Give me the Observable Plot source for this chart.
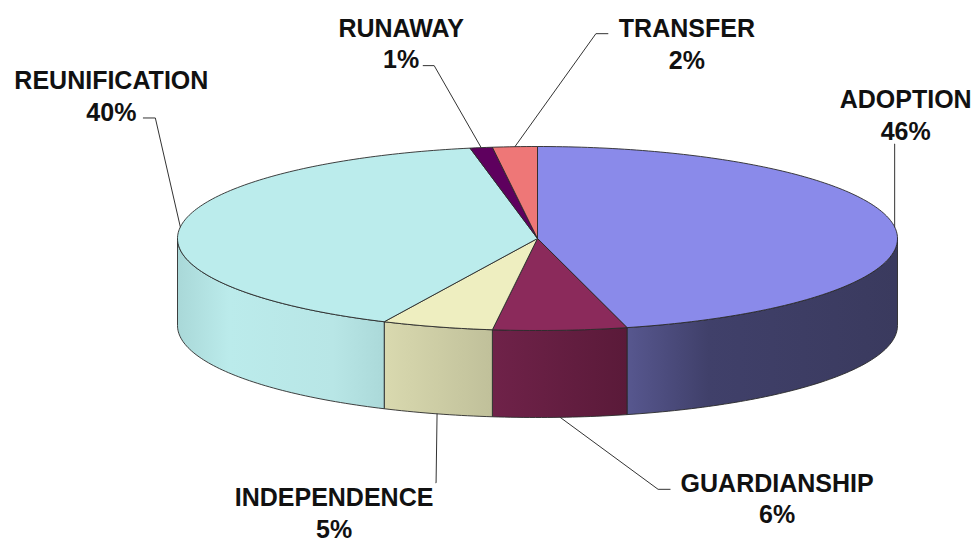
<!DOCTYPE html>
<html><head><meta charset="utf-8">
<script src="https://cdn.jsdelivr.net/npm/d3@7"></script>
<script src="https://cdn.jsdelivr.net/npm/@observablehq/plot@0.6"></script>
<style>html,body{margin:0;padding:0;background:#fff;}</style>
</head><body><div id="chart"></div>
<script>
// ---- data ----
const categories = ["ADOPTION", "GUARDIANSHIP", "INDEPENDENCE", "REUNIFICATION", "RUNAWAY", "TRANSFER"];
const values = [46, 6, 5, 40, 1, 2];
const percentLabels = ["46%", "6%", "5%", "40%", "1%", "2%"];

// ---- styles ----
const topColors = ["#8a8aea", "#8b2a5b", "#eeeec0", "#bbecec", "#5e005e", "#ee7777"];
const sideStops = [
  [[0, "#57578f"], [0.3, "#40406a"], [1, "#3a3a5e"]],
  [[0, "#6f2249"], [1, "#5a1a39"]],
  [[0, "#d9d9af"], [1, "#c0c09a"]],
  [[0, "#a9d8d8"], [0.25, "#bbebeb"], [0.75, "#b8e6e6"], [1, "#abd9d9"]],
  [[0, "#4a004a"], [1, "#4a004a"]],
  [[0, "#c86060"], [1, "#c86060"]]
];

// ---- layout ----
const W = 977, H = 541, CX = 537, CY = 238, RX = 360, RY = 92, DEPTH = 87;
// leader anchor on rim ("top" edge or "bottom" of wall), elbow offset, tail length, label-center offset
const labelLayout = [
  {rim: "top",    elbow: [0, -83],    tail: 0,   label: [11, -113]},
  {rim: "bottom", elbow: [98, 72],    tail: 12,  label: [217, 80]},
  {rim: "bottom", elbow: [-1, 69],    tail: 0,   label: [-103, 98]},
  {rim: "top",    elbow: [-25, -109], tail: -12, label: [-69, -132]},
  {rim: "top",    elbow: [-47, -82],  tail: -11, label: [-80, -105]},
  {rim: "top",    elbow: [81, -113],  tail: 12,  label: [172, -104]}
];

// ---- geometry from data ----
const total = d3.sum(values);
let acc = 0;
const slices = categories.map((c, i) => {
  const a0 = acc / total * 2 * Math.PI;
  acc += values[i];
  const a1 = acc / total * 2 * Math.PI;
  return {c, i, a0, a1};
});
const px = a => CX + RX * Math.sin(a);
const py = a => CY - RY * Math.cos(a);
const arc = (s, e) => {
  const n = Math.max(2, Math.ceil((e - s) / (Math.PI / 180)));
  return d3.range(n + 1).map(k => s + (e - s) * k / n);
};

const sideMarks = [];
slices.forEach(s => {
  const st = Math.max(s.a0, Math.PI / 2), en = Math.min(s.a1, 3 * Math.PI / 2);
  if (en <= st) return;
  const angs = arc(st, en);
  const pts = angs.map(a => ({x: px(a), y: py(a)}))
    .concat(angs.slice().reverse().map(a => ({x: px(a), y: py(a) + DEPTH})));
  pts.push(pts[0]);
  sideMarks.push(Plot.line(pts, {x: "x", y: "y", curve: "linear", fill: `url(#side${s.i})`, stroke: "#2a2a2a", strokeWidth: 0.9}));
});

const topMarks = slices.map(s => {
  const pts = [{x: CX, y: CY}].concat(arc(s.a0, s.a1).map(a => ({x: px(a), y: py(a)})));
  pts.push({x: CX, y: CY});
  return Plot.line(pts, {x: "x", y: "y", curve: "linear", fill: topColors[s.i], stroke: "#2a2a2a", strokeWidth: 0.9});
});

const leaders = [], labels = [];
slices.forEach(s => {
  const L = labelLayout[s.i];
  const m = (s.a0 + s.a1) / 2;
  const ax = px(m), ay = py(m) + (L.rim === "bottom" ? DEPTH : 0);
  const ex = ax + L.elbow[0], ey = ay + L.elbow[1];
  leaders.push({c: s.c, x: ax, y: ay}, {c: s.c, x: ex, y: ey}, {c: s.c, x: ex + L.tail, y: ey});
  labels.push({x: ax + L.label[0], y: ay + L.label[1], text: s.c + "\n" + percentLabels[s.i]});
});

const svg = Plot.plot({
  width: W, height: H, margin: 0,
  x: {domain: [0, W], range: [0, W], axis: null},
  y: {domain: [0, H], range: [0, H], axis: null},
  style: {background: "#fff", overflow: "visible"},
  marks: [
    ...sideMarks,
    ...topMarks,
    Plot.line(leaders, {x: "x", y: "y", z: "c", curve: "linear", stroke: "#333", strokeWidth: 1}),
    Plot.text(labels, {x: "x", y: "y", text: "text", fontSize: 25, fontWeight: "bold",
      fontFamily: "'Liberation Sans', Arial, sans-serif", lineHeight: 1.26,
      textAnchor: "middle", lineAnchor: "middle", fill: "#111"})
  ]
});

const defs = d3.select(svg).insert("defs", ":first-child");
sideStops.forEach((stops, i) => {
  const g = defs.append("linearGradient").attr("id", `side${i}`)
    .attr("x1", 0).attr("y1", 0).attr("x2", 1).attr("y2", 0);
  stops.forEach(([o, c]) => g.append("stop").attr("offset", o).attr("stop-color", c));
});

document.getElementById("chart").appendChild(svg);
</script>
</body></html>
